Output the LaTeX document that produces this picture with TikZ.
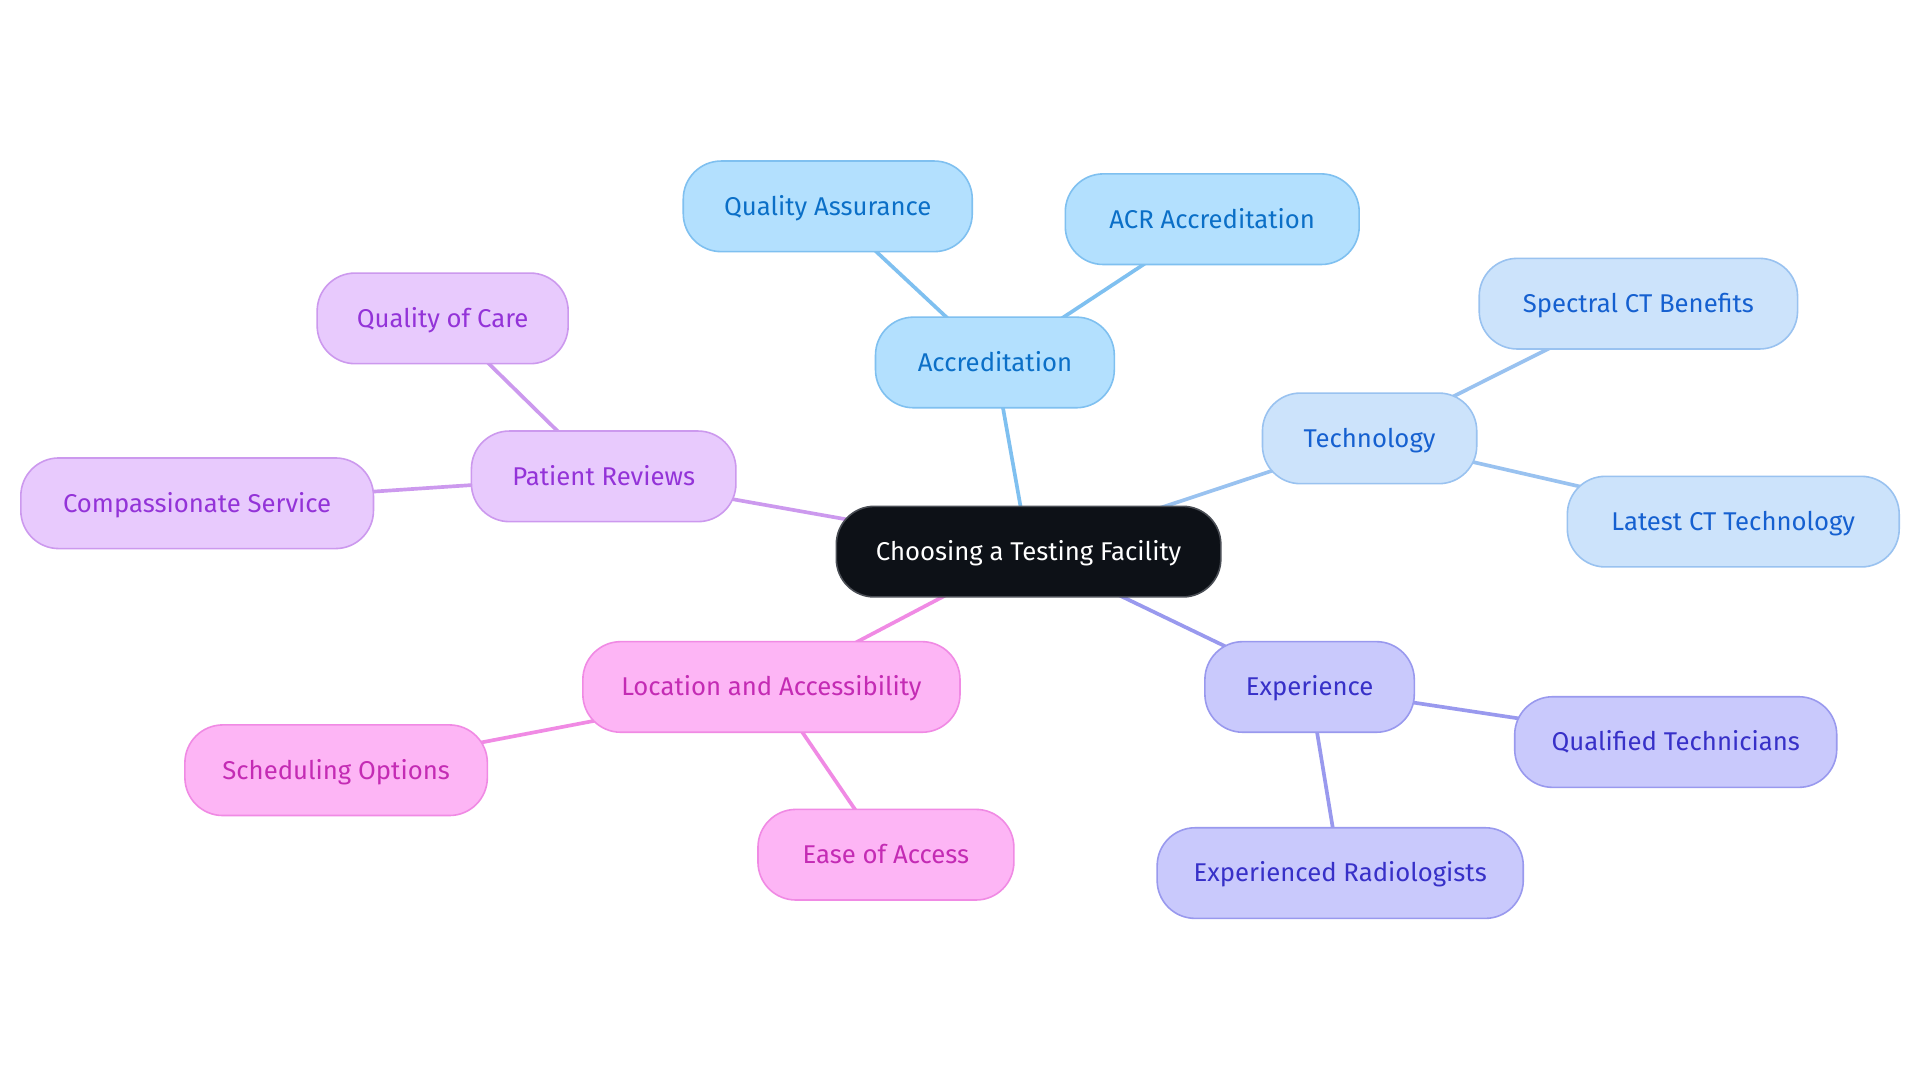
\documentclass[tikz,border=0pt]{standalone}
\usepackage{fontspec}
\setmainfont{Fira Sans}
\usetikzlibrary{backgrounds}
\definecolor{rootfill}{HTML}{0D1117}
\definecolor{rootdraw}{HTML}{4A4E55}
\definecolor{accfill}{HTML}{B3E0FE}
\definecolor{accdraw}{HTML}{7FC0F0}
\definecolor{acctext}{HTML}{0B6FC7}
\definecolor{techfill}{HTML}{CCE3FB}
\definecolor{techdraw}{HTML}{99C2F0}
\definecolor{techtext}{HTML}{1560D0}
\definecolor{expfill}{HTML}{C9C9FC}
\definecolor{expdraw}{HTML}{9999EE}
\definecolor{exptext}{HTML}{3730C8}
\definecolor{locfill}{HTML}{FDB5F5}
\definecolor{locdraw}{HTML}{F08AE4}
\definecolor{loctext}{HTML}{C42BB4}
\definecolor{patfill}{HTML}{E8CAFD}
\definecolor{patdraw}{HTML}{CC99EE}
\definecolor{pattext}{HTML}{9333D8}
\tikzset{
  mbox/.style={rectangle, rounded corners=31pt, line width=1.3pt,
    minimum height=74pt, inner sep=0pt, text height=14.5pt, text depth=0pt,
    font=\fontsize{21}{25}\selectfont},
  rootbox/.style={mbox, fill=rootfill, draw=rootdraw, text=white},
  accbox/.style={mbox, fill=accfill, draw=accdraw, text=acctext},
  techbox/.style={mbox, fill=techfill, draw=techdraw, text=techtext},
  expbox/.style={mbox, fill=expfill, draw=expdraw, text=exptext},
  locbox/.style={mbox, fill=locfill, draw=locdraw, text=loctext},
  patbox/.style={mbox, fill=patfill, draw=patdraw, text=pattext},
  accline/.style={draw=accdraw, line width=3pt},
  techline/.style={draw=techdraw, line width=3pt},
  expline/.style={draw=expdraw, line width=3pt},
  locline/.style={draw=locdraw, line width=3pt},
  patline/.style={draw=patdraw, line width=3pt},
}
\begin{document}
\begin{tikzpicture}[x=1pt,y=-1pt]
\useasboundingbox (0,0) rectangle (1568,884);
\node[rootbox, minimum width=314pt] (root) at (840,450.5) {Choosing a Testing Facility};
\node[accbox, minimum width=195pt] (acc) at (812.5,296) {Accreditation};
\node[accbox, minimum width=236pt] (qa) at (676,168.5) {Quality Assurance};
\node[accbox, minimum width=240pt] (acr) at (990,179) {ACR Accreditation};
\node[techbox, minimum width=175pt] (tech) at (1118.5,358) {Technology};
\node[techbox, minimum width=260pt] (spec) at (1338,248) {Spectral CT Benefits};
\node[techbox, minimum width=271pt] (latest) at (1415.5,426) {Latest CT Technology};
\node[expbox, minimum width=171pt] (exp) at (1069.5,561) {Experience};
\node[expbox, minimum width=263pt] (qual) at (1368.5,606) {Qualified Technicians};
\node[expbox, minimum width=299pt] (rad) at (1094.5,713) {Experienced Radiologists};
\node[locbox, minimum width=308pt] (loc) at (630,561) {Location and Accessibility};
\node[locbox, minimum width=247pt] (sched) at (274.5,629) {Scheduling Options};
\node[locbox, minimum width=209pt] (ease) at (723.5,698) {Ease of Access};
\node[patbox, minimum width=216pt] (pat) at (493,389) {Patient Reviews};
\node[patbox, minimum width=205pt] (qoc) at (361.5,260) {Quality of Care};
\node[patbox, minimum width=288pt] (comp) at (161,411) {Compassionate Service};
\begin{pgfonlayer}{background}
\fill[white] (0,0) rectangle (1568,884);
\draw[accline] (root.center) -- (acc.center);
\draw[accline] (acc.center) -- (qa.center);
\draw[accline] (acc.center) -- (acr.center);
\draw[techline] (root.center) -- (tech.center);
\draw[techline] (tech.center) -- (spec.center);
\draw[techline] (tech.center) -- (latest.center);
\draw[expline] (root.center) -- (exp.center);
\draw[expline] (exp.center) -- (qual.center);
\draw[expline] (exp.center) -- (rad.center);
\draw[locline] (root.center) -- (loc.center);
\draw[locline] (loc.center) -- (sched.center);
\draw[locline] (loc.center) -- (ease.center);
\draw[patline] (root.center) -- (pat.center);
\draw[patline] (pat.center) -- (qoc.center);
\draw[patline] (pat.center) -- (comp.center);
\end{pgfonlayer}
\end{tikzpicture}
\end{document}
